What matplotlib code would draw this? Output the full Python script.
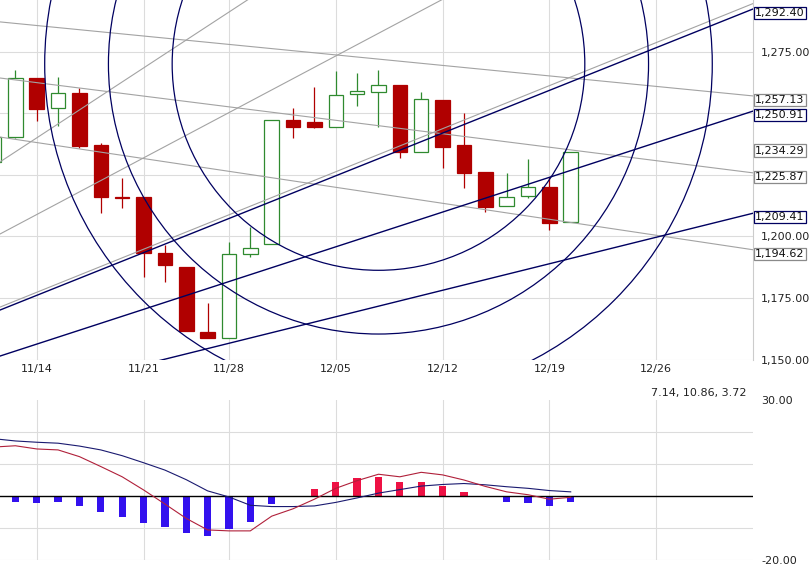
import matplotlib
matplotlib.use("Agg")
import matplotlib.pyplot as plt
from matplotlib.patches import Ellipse
import numpy as np

# trading days shown (11/10 is only partly visible at the left edge)
days = ['11/10', '11/11', '11/14', '11/15', '11/16', '11/17', '11/18',
        '11/21', '11/22', '11/23', '11/25', '11/28', '11/29', '11/30',
        '12/01', '12/02', '12/05', '12/06', '12/07', '12/08', '12/09',
        '12/12', '12/13', '12/14', '12/15', '12/16', '12/19', '12/20']
future_days = ['12/21', '12/22', '12/23', '12/26', '12/27', '12/28', '12/29', '12/30']

opens = [1230.3, 1240.6, 1264.3, 1252.1, 1258.2, 1237.2, 1216.1,
         1216.0, 1193.2, 1187.5, 1161.3, 1158.6, 1192.9, 1196.9,
         1247.4, 1246.7, 1244.6, 1257.8, 1258.6, 1261.6, 1234.5,
         1255.5, 1237.2, 1226.1, 1212.4, 1216.5, 1220.0, 1205.9]
highs = [1246.0, 1267.7, 1264.3, 1264.7, 1260.2, 1237.8, 1223.7,
         1216.0, 1196.5, 1187.5, 1172.8, 1197.9, 1204.0, 1247.4,
         1252.1, 1260.6, 1267.4, 1266.6, 1267.7, 1261.6, 1258.9,
         1255.5, 1250.1, 1226.1, 1225.7, 1231.4, 1224.3, 1234.3]
lows = [1228.0, 1240.0, 1247.1, 1245.0, 1235.8, 1209.4, 1211.5,
        1183.4, 1181.6, 1161.7, 1158.6, 1158.6, 1191.5, 1196.9,
        1239.9, 1244.0, 1244.6, 1253.0, 1244.6, 1231.8, 1234.5,
        1227.7, 1219.6, 1210.1, 1212.4, 1215.5, 1202.6, 1205.9]
closes = [1240.4, 1264.3, 1252.0, 1258.2, 1236.8, 1216.2, 1215.6,
          1193.4, 1188.3, 1161.7, 1158.6, 1192.8, 1195.2, 1247.4,
          1244.6, 1244.6, 1257.5, 1259.3, 1261.6, 1234.5, 1255.9,
          1236.5, 1225.9, 1211.9, 1215.9, 1220.0, 1205.4, 1234.29]

macd_line = [15.3, 15.7, 14.7, 14.4, 12.3, 9.2, 6.0, 1.9, -2.5, -7.0, -10.6, -10.9, -10.9, -6.3,
             -4.0, -1.0, 2.4, 4.8, 6.8, 6.0, 7.4, 6.6, 5.0, 3.0, 1.3, 0.4, -1.0, -0.4]
signal_line = [17.9, 17.2, 16.8, 16.5, 15.6, 14.4, 12.6, 10.4, 8.1, 5.1, 1.6, -0.3, -2.9, -3.3,
               -3.3, -3.1, -2.0, -0.6, 0.9, 2.0, 3.1, 3.6, 3.9, 3.5, 2.9, 2.4, 1.7, 1.3]
macd_hist = [-1.6, -1.8, -2.1, -1.8, -3.0, -5.1, -6.5, -8.3, -9.6, -11.5, -12.4, -10.2, -8.0, -2.6,
             0.0, 2.2, 4.5, 5.7, 6.0, 4.5, 4.5, 3.1, 1.3, -0.4, -1.8, -2.1, -3.1, -1.8]

week_labels = ['11/14', '11/21', '11/28', '12/05', '12/12', '12/19', '12/26']
price_ticks = [1150, 1175, 1200, 1225, 1250, 1275]
price_labels = ['1,150.00', '1,175.00', '1,200.00', '', '', '1,275.00']

# fan lines: value at left edge, value at right edge
fan_dark = [(1170.1, 1292.40), (1151.4, 1250.91), (1133.5, 1209.41)]
fan_gray = [(1171.3, 1294.6), (1201.0, 1363.2), (1230.3, 1430.5)]
trend_gray = [(1287.2, 1257.13), (1264.4, 1225.87), (1240.4, 1194.62)]
# fibonacci arcs around the 12/07 point
arc_center = ('12/07', 1270.1)
arc_base = 219.5
arc_ratios = [0.382, 0.5, 0.618]
last_price = 1234.29
macd_legend = '7.14, 10.86, 3.72'

all_days = days + future_days
x = np.arange(len(days))
week_pos = [all_days.index(w) for w in week_labels]

RED = '#b00000'
GREEN = '#2f8a2f'
NAVY = '#000060'
GRAY = '#a3a3a3'
GRID = '#dcdcdc'

plt.rcParams['font.family'] = 'DejaVu Sans'
plt.rcParams['font.size'] = 8

fig = plt.figure(figsize=(8.1, 5.74), dpi=100)
W, H = 810, 574
ax = fig.add_axes([0, 1 - 359.5 / H, 752.7 / W, 359.5 / H])
ax2 = fig.add_axes([0, 14 / H, 752.7 / W, 160 / H])

x0, x1 = 0.28, 35.52
y0, y1 = 1150, 1296.1
ax.set_xlim(x0, x1)
ax.set_ylim(y0, y1)

# grid
for w in week_pos:
    ax.axvline(w, color=GRID, lw=0.8, zorder=0)
    ax2.axvline(w, color=GRID, lw=0.8, zorder=0)
for p in price_ticks:
    ax.axhline(p, color=GRID, lw=0.8, zorder=0)

# candles
for i in x:
    o, h, l, c = opens[i], highs[i], lows[i], closes[i]
    up = c >= o
    col = GREEN if up else RED
    ax.vlines(i, l, h, color=col, lw=0.9, zorder=2)
    body = max(abs(c - o), 0.4)
    ax.bar(i, body, bottom=min(o, c), width=0.68,
           facecolor='white' if up else RED, edgecolor=col, lw=0.9, zorder=3)

# fan and trend lines
for left, right in fan_gray:
    ax.plot([x0, x1], [left, right], color=GRAY, lw=0.8, zorder=4)
for left, right in trend_gray:
    ax.plot([x0, x1], [left, right], color=GRAY, lw=0.8, zorder=4)
for left, right in fan_dark:
    ax.plot([x0, x1], [left, right], color=NAVY, lw=1.0, zorder=5)

# arcs, drawn as circles on screen
bb = ax.get_position()
px_day = bb.width * W / (x1 - x0)
px_pt = bb.height * H / (y1 - y0)
cx = days.index(arc_center[0])
for r in arc_ratios:
    rad = arc_base * r
    ax.add_patch(Ellipse((cx, arc_center[1]), 2 * rad * px_pt / px_day, 2 * rad,
                         fill=False, ec=NAVY, lw=0.9, zorder=5))

ax.set_xticks(week_pos)
ax.set_xticklabels(week_labels)
ax.set_yticks(price_ticks)
ax.set_yticklabels(price_labels)
ax.yaxis.tick_right()
ax.tick_params(axis='x', length=0, pad=3, colors='#222222')
ax.tick_params(axis='y', length=0, pad=6, colors='#222222')
for s in ['top', 'left', 'bottom']:
    ax.spines[s].set_visible(False)
ax.spines['right'].set_color('#cccccc')


def tag(y, txt, ec, dy):
    ax.annotate(txt, xy=(1, y), xycoords=('axes fraction', 'data'),
                xytext=(2.5, dy), textcoords='offset pixels', ha='left', va='center',
                fontsize=8, color='#111111', annotation_clip=False,
                bbox=dict(boxstyle='square,pad=0.1', fc='white', ec=ec, lw=0.9))


for left, right in fan_dark:
    tag(right, f'{right:,.2f}', NAVY, -4)
for left, right in trend_gray:
    tag(right, f'{right:,.2f}', '#8a8a8a', -4)
tag(last_price, f'{last_price:,.2f}', '#8a8a8a', 1.5)

# MACD panel
ax2.set_xlim(x0, x1)
ax2.set_ylim(-20, 30)
for g in [-20, -10, 10, 20]:
    ax2.axhline(g, color=GRID, lw=0.8, zorder=0)
ax2.axhline(0, color='black', lw=1.0, zorder=3)
bar_cols = ['#ee1144' if v > 0 else '#3311ee' for v in macd_hist]
ax2.bar(x, macd_hist, width=0.34, color=bar_cols, zorder=2)
ax2.plot(x, signal_line, color='#1a1a70', lw=0.8, zorder=4)
ax2.plot(x, macd_line, color='#b0203a', lw=0.8, zorder=4)
ax2.set_xticks([])
ax2.set_yticks([-20, 30])
ax2.set_yticklabels(['-20.00', '30.00'])
ax2.yaxis.tick_right()
ax2.tick_params(axis='y', length=0, pad=6, colors='#222222')
for s in ax2.spines.values():
    s.set_visible(False)
ax2.text(0.992, 1.045, macd_legend, transform=ax2.transAxes, ha='right', va='center',
         fontsize=8, color='#222222')

fig.savefig('out.png', dpi=100)
